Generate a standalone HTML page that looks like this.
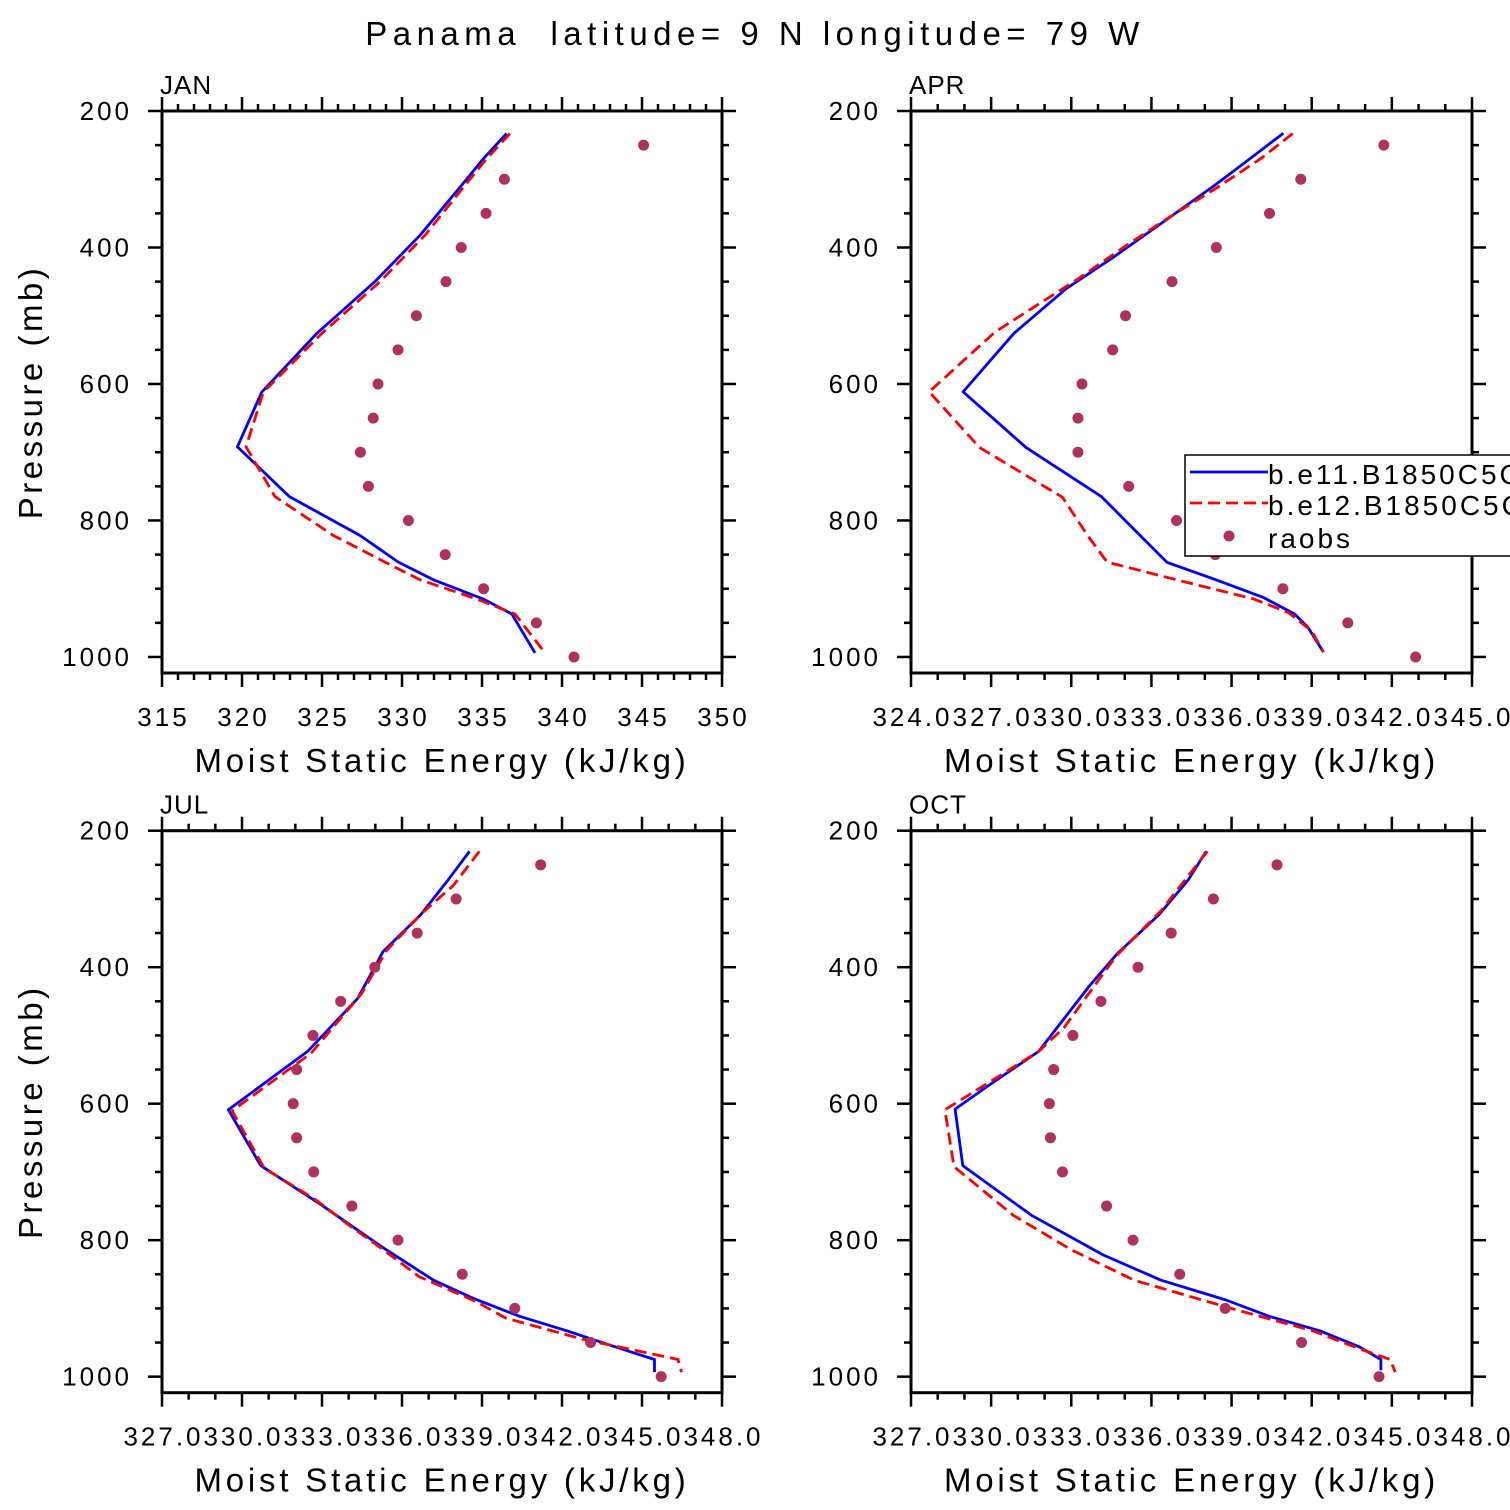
<!DOCTYPE html>
<html><head><meta charset="utf-8"><style>
html,body{margin:0;padding:0;background:#fff;overflow:hidden;width:1510px;height:1510px}
svg{display:block;font-family:"Liberation Sans",sans-serif}
</style></head><body>
<svg id="chart" width="1510" height="1510" viewBox="0 0 1510 1510"></svg>
<script>
const raobLevels=[250,300,350,400,450,500,550,600,650,700,750,800,850,900,950,1000];
const janLevels=[233,270,306,382,450,526,612,692,765,822,861,887,915,937,994];
const janBlue=[336.54,335.08,333.83,331.13,328.31,324.67,321.23,319.71,322.96,327.38,329.77,331.96,335.08,336.86,338.31];
const janRedLevels=[233,270,306,382,450,526,612,692,765,822,861,887,915,937,994];
const janRed=[336.75,335.29,334.04,331.44,328.63,324.98,321.33,320.25,322.06,325.71,328.94,331.13,334.67,337.06,338.94];
const janRaobs=[345.1,336.4,335.25,333.7,332.75,330.9,329.75,328.5,328.2,327.4,327.9,330.4,332.7,335.1,338.4,340.75];
const aprLevels=[232.6,271.9,308.3,358.9,415,460,525.6,611.5,692.9,764.8,861.3,886.6,913,937,956.7,993];
const aprBlue=[337.94,336.62,335.39,333.58,331.55,329.82,327.86,325.95,328.30,331.12,333.58,335.39,337.2,338.36,338.86,339.44];
const aprRedLevels=[233,269,314,356,401,446,506,524,611.5,693,766,822,861,887,915,935,962,993];
const aprRed=[338.29,337.12,335.39,333.65,331.91,330.25,327.86,327.14,324.68,326.56,329.67,330.61,331.34,333.94,336.83,338.13,339.0,339.44];
const aprRaobs=[341.70,338.59,337.42,335.43,333.77,332.03,331.55,330.40,330.25,330.25,332.15,333.94,335.39,337.92,340.35,342.89];
const julLevels=[230.4,272.6,322.8,377.1,445.8,523.4,609,690.8,745.2,811.1,858.7,885.1,911.5,932.6,953.7,974.8,993.3];
const julBlue=[338.53,337.72,336.71,335.29,334.34,332.46,329.49,330.70,332.86,335.29,337.18,338.66,340.41,342.17,343.79,345.47,345.47];
const julRedLevels=[230.4,280.5,320.1,375.6,438.9,526,610.5,695,739.9,779.5,813.8,853.4,890.4,914.1,945.8,959,974.8,993.3];
const julRed=[338.90,337.92,336.77,335.42,334.48,332.59,329.63,330.84,332.73,334.07,335.29,336.64,338.80,339.88,342.84,344.46,346.35,346.48];
const julRaobs=[341.20,338.03,336.57,334.98,333.70,332.66,332.05,331.92,332.05,332.69,334.12,335.85,338.26,340.23,343.07,345.72];
const octLevels=[230.4,272.6,322.8,379.3,428.4,475.9,523.4,572,607.9,690.8,763.6,821.7,858.7,887.7,911.5,932.6,956.3,974.8,990.7];
const octBlue=[338.05,337.37,336.29,334.74,333.66,332.72,331.78,329.95,328.65,328.94,331.51,334.20,336.36,338.79,340.41,342.29,343.78,344.59,344.59];
const octRedLevels=[230.4,283.2,317.5,354.4,383.5,489,523.4,563,609,692.4,763.6,813.8,858.7,900.9,932.6,959,974.8,993.3];
const octRed=[338.09,337.04,336.36,335.42,334.68,332.72,331.78,330.16,328.27,328.61,330.83,332.99,335.35,339.06,342.03,343.78,344.93,345.13];
const octRaobs=[340.70,338.32,336.74,335.50,334.11,333.06,332.34,332.18,332.22,332.67,334.32,335.31,337.06,338.76,341.62,344.52];
const pTicks=[200,400,600,800,1000];
const janXTicks=["315","320","325","330","335","340","345","350"];
const aprXTicks=["324.0","327.0","330.0","333.0","336.0","339.0","342.0","345.0"];
const julXTicks=["327.0","330.0","333.0","336.0","339.0","342.0","345.0","348.0"];
const octXTicks=["327.0","330.0","333.0","336.0","339.0","342.0","345.0","348.0"];

const NS="http://www.w3.org/2000/svg";
const svg=document.getElementById('chart');
function mk(tag,attrs,parent){const e=document.createElementNS(NS,tag);for(const k in attrs)e.setAttribute(k,attrs[k]);(parent||svg).appendChild(e);return e;}

const title=mk('text',{x:755,y:45,'text-anchor':'middle','font-size':33,'letter-spacing':'5.5',fill:'#000'});


title.textContent='Panama\u00a0\u00a0latitude= 9 N longitude= 79 W';

function panel(cfg){
  const g=mk('g',{});
  
  
  const {x0,x1,y0,y1,xmin,xmax,xstep,xminor}=cfg;
  const pmin=200,pmax=1023.5;
  const xs=v=>x0+(v-xmin)/(xmax-xmin)*(x1-x0);
  const ys=p=>y0+(p-pmin)/(pmax-pmin)*(y1-y0);
  const tg=mk('g',{stroke:'#000','stroke-width':2.5},g);
  
  
  for(let p=200;p<=1000;p+=50){
    const L=(p%200===0)?14:7;const y=ys(p);
    mk('line',{x1:x0-L,y1:y,x2:x0,y2:y},tg);
    mk('line',{x1:x1,y1:y,x2:x1+L,y2:y},tg);
  }
  for(let v=xmin;v<=xmax+1e-6;v+=xminor){
    const major=Math.abs(((v-xmin)/xstep)-Math.round((v-xmin)/xstep))<1e-6;
    const L=major?14:7;const x=xs(v);
    mk('line',{x1:x,y1:y1,x2:x,y2:y1+L},tg);
    mk('line',{x1:x,y1:y0-L,x2:x,y2:y0},tg);
  }
  const fr=mk('rect',{x:x0,y:y0,width:x1-x0,height:y1-y0,fill:'none',stroke:'#000','stroke-width':3},g);
  
  
  pTicks.forEach(p=>{
    const t=mk('text',{x:x0-30,y:ys(p)+9,'text-anchor':'end','font-size':26,'letter-spacing':'3'},g);
    
    
    t.textContent=String(p);
  });
  cfg.xticks.forEach((s,i)=>{
    const t=mk('text',{x:xs(xmin+i*xstep)+1.5,y:y1+53,'text-anchor':'middle','font-size':26,'letter-spacing':'3'},g);
    
    
    t.textContent=s;
  });
  const xt=mk('text',{x:(x0+x1)/2,y:y1+99,'text-anchor':'middle','font-size':33,'letter-spacing':'3.8'},g);
  
  
  xt.textContent='Moist Static Energy (kJ/kg)';
  if(cfg.ytitle){
    const yt=mk('text',{x:0,y:0,'text-anchor':'middle','font-size':33,'letter-spacing':'3.5',transform:`translate(42,${(y0+y1)/2}) rotate(-90)`},g);
    
    
    yt.textContent='Pressure (mb)';
  }
  const mt=mk('text',{x:x0-2,y:y0-17,'font-size':26,'letter-spacing':'1'},g);
  
  
  mt.textContent=cfg.label;
  const pts=(lv,vals)=>lv.map((p,i)=>xs(vals[i]).toFixed(1)+','+ys(p).toFixed(1)).join(' ');
  const bl=mk('polyline',{points:pts(cfg.levels,cfg.blue),fill:'none',stroke:'#0000ff','stroke-width':2.8,'stroke-linejoin':'round'},g);
  
  
  const rl=mk('polyline',{points:pts(cfg.redLevels,cfg.red),fill:'none',stroke:'#ff0000','stroke-width':2.8,'stroke-dasharray':'12 6'},g);
  
  
  raobLevels.forEach((p,i)=>{
    const c=mk('circle',{cx:xs(cfg.raobs[i]),cy:ys(p),r:5.5,fill:'#b03060'},g);
    
    
  });
}
panel({name:'jan',label:'JAN',x0:162,x1:722,y0:111,y1:673,xmin:315,xmax:350,xstep:5,xminor:1,xticks:janXTicks,levels:janLevels,blue:janBlue,redLevels:janRedLevels,red:janRed,raobs:janRaobs,ytitle:true});
panel({name:'apr',label:'APR',x0:911,x1:1472,y0:111,y1:673,xmin:324,xmax:345,xstep:3,xminor:1,xticks:aprXTicks,levels:aprLevels,blue:aprBlue,redLevels:aprRedLevels,red:aprRed,raobs:aprRaobs});
panel({name:'jul',label:'JUL',x0:162,x1:722,y0:830.7,y1:1392.7,xmin:327,xmax:348,xstep:3,xminor:1,xticks:julXTicks,levels:julLevels,blue:julBlue,redLevels:julRedLevels,red:julRed,raobs:julRaobs,ytitle:true});
panel({name:'oct',label:'OCT',x0:911,x1:1472,y0:830.7,y1:1392.7,xmin:327,xmax:348,xstep:3,xminor:1,xticks:octXTicks,levels:octLevels,blue:octBlue,redLevels:octRedLevels,red:octRed,raobs:octRaobs});

const lg=mk('g',{});


const lb=mk('rect',{x:1185,y:455,width:340,height:101,fill:'#fff',stroke:'#000','stroke-width':1.5},lg);


const l1=mk('line',{x1:1190,y1:472,x2:1268,y2:472,stroke:'#0000ff','stroke-width':2.8},lg);


const l2=mk('line',{x1:1190,y1:503,x2:1268,y2:503,stroke:'#ff0000','stroke-width':2.8,'stroke-dasharray':'12 6'},lg);


const l3=mk('circle',{cx:1229,cy:536,r:5.5,fill:'#b03060'},lg);


[['b.e11.B1850C5CN',484],['b.e12.B1850C5CN',515],['raobs',548]].forEach(([s,y])=>{
  const t=mk('text',{x:1268,y:y,'font-size':28,'letter-spacing':'3'},lg);
  
  
  t.textContent=s;
});
</script>
</body></html>
